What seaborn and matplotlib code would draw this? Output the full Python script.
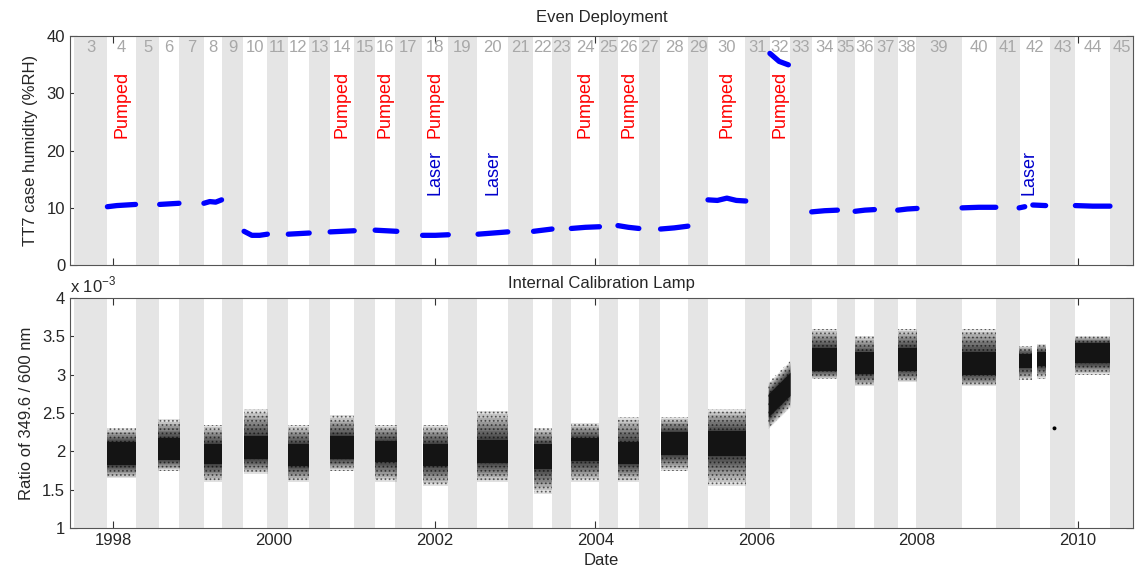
import numpy as np
import pandas as pd
import matplotlib
matplotlib.use("Agg")
import matplotlib.pyplot as plt
import seaborn as sns

# ---------------------------------------------------------------- data
# Deployment numbers and their boundaries (decimal year)
deploy_ids = list(range(3, 46))
deploy_edges = [1997.515, 1997.925, 1998.286, 1998.572, 1998.821, 1999.132,
                1999.356, 1999.617, 1999.915, 2000.177, 2000.438, 2000.699,
                2000.998, 2001.259, 2001.507, 2001.843, 2002.167, 2002.527,
                2002.913, 2003.224, 2003.460, 2003.697, 2004.045, 2004.281,
                2004.542, 2004.803, 2005.152, 2005.400, 2005.861, 2006.172,
                2006.420, 2006.694, 2007.005, 2007.229, 2007.465, 2007.764,
                2007.988, 2008.560, 2008.983, 2009.281, 2009.654, 2009.965,
                2010.400, 2010.687]

# TT7 case humidity (%RH) per even-deployment record segment
hum_dep = [4, 6, 8, 10, 12, 14, 16, 18, 20, 22, 24, 26, 28, 30, 32,
           34, 36, 38, 40, 42, 42, 44]
hum_start = [1997.93, 1998.58, 1999.13, 1999.63, 2000.18, 2000.70, 2001.26,
             2001.85, 2002.54, 2003.23, 2003.70, 2004.28, 2004.81, 2005.40,
             2006.17, 2006.69, 2007.23, 2007.76, 2008.56, 2009.27, 2009.44,
             2009.97]
hum_end = [1998.28, 1998.82, 1999.35, 1999.92, 2000.44, 2001.00, 2001.53,
           2002.17, 2002.91, 2003.46, 2004.05, 2004.54, 2005.15, 2005.87,
           2006.40, 2007.01, 2007.47, 2008.00, 2008.98, 2009.34, 2009.60,
           2010.40]
hum_vals = [[10.2, 10.4, 10.5, 10.6],
            [10.6, 10.7, 10.8],
            [10.8, 11.1, 11.0, 11.4],
            [5.9, 5.2, 5.2, 5.4],
            [5.4, 5.5, 5.6],
            [5.8, 5.9, 6.0],
            [6.1, 6.0, 5.9],
            [5.2, 5.2, 5.3],
            [5.4, 5.6, 5.8],
            [5.9, 6.1, 6.3],
            [6.4, 6.6, 6.7],
            [6.9, 6.6, 6.4],
            [6.3, 6.5, 6.8],
            [11.4, 11.3, 11.7, 11.3, 11.2],
            [37.0, 36.3, 35.6, 35.3, 35.0],
            [9.3, 9.5, 9.6],
            [9.4, 9.6, 9.7],
            [9.6, 9.8, 9.9],
            [10.0, 10.1, 10.1],
            [10.0, 10.2],
            [10.5, 10.4],
            [10.4, 10.3, 10.3]]

# Calibration lamp ratio 349.6/600 nm (x 1e-3): cluster centre at start/end,
# dense-core half width, and full spread below/above the centre
lamp_dep = [4, 6, 8, 10, 12, 14, 16, 18, 20, 22, 24, 26, 28, 30, 32,
            34, 36, 38, 40, 42, 42, 44]
lamp_start = [1997.93, 1998.56, 1999.13, 1999.63, 2000.18, 2000.70, 2001.26,
              2001.85, 2002.53, 2003.23, 2003.70, 2004.28, 2004.81, 2005.40,
              2006.15, 2006.69, 2007.23, 2007.76, 2008.56, 2009.27, 2009.49,
              2009.97]
lamp_end = [1998.29, 1998.83, 1999.36, 1999.93, 2000.44, 2001.00, 2001.53,
            2002.17, 2002.91, 2003.46, 2004.05, 2004.54, 2005.15, 2005.87,
            2006.42, 2007.01, 2007.47, 2008.00, 2008.98, 2009.43, 2009.60,
            2010.40]
lamp_mid0 = [1.97, 2.03, 1.96, 2.05, 1.95, 2.05, 2.00, 1.95, 2.00, 1.93, 2.02,
             1.98, 2.10, 2.10, 2.60, 3.20, 3.15, 3.20, 3.15, 3.18, 3.20, 3.28]
lamp_mid1 = [1.97, 2.03, 1.96, 2.05, 1.95, 2.05, 2.00, 1.95, 2.00, 1.93, 2.02,
             1.98, 2.10, 2.10, 2.88, 3.20, 3.15, 3.20, 3.15, 3.18, 3.20, 3.28]
lamp_core = [0.15, 0.14, 0.13, 0.15, 0.14, 0.15, 0.14, 0.14, 0.15, 0.16, 0.15,
             0.14, 0.15, 0.16, 0.15, 0.15, 0.14, 0.15, 0.15, 0.09, 0.09, 0.13]
lamp_down = [0.32, 0.28, 0.36, 0.35, 0.35, 0.30, 0.40, 0.40, 0.40, 0.48, 0.42,
             0.38, 0.35, 0.55, 0.30, 0.25, 0.30, 0.30, 0.30, 0.25, 0.25, 0.28]
lamp_up = [0.33, 0.39, 0.39, 0.50, 0.40, 0.42, 0.35, 0.40, 0.53, 0.37, 0.35,
           0.47, 0.35, 0.45, 0.30, 0.40, 0.35, 0.40, 0.45, 0.20, 0.20, 0.22]
# isolated lamp readings outside the main clouds
lamp_out_t = [2009.71]
lamp_out_v = [2.30]

# Annotated special deployments
pumped_deps = [4, 14, 16, 18, 24, 26, 30, 32]
laser_deps = [18, 20, 42]

year_ticks = [1998, 2000, 2002, 2004, 2006, 2008, 2010]

# ---------------------------------------------------------------- style
sns.set_theme(style="ticks")
plt.rcParams["font.family"] = ["Liberation Sans", "DejaVu Sans"]
plt.rcParams["font.size"] = 12
plt.rcParams["hatch.linewidth"] = 0.8
BAND_GREY = "#e5e5e5"
NUM_GREY = "#a8a8a8"
XLIM = (1997.465, 2010.687)

fig = plt.figure(figsize=(11.46, 5.75), dpi=100)
ax1 = fig.add_axes([0.0611, 0.539, 0.9276, 0.398])
ax2 = fig.add_axes([0.0611, 0.0817, 0.9276, 0.400])


def centre(dep):
    i = deploy_ids.index(dep)
    return 0.5 * (deploy_edges[i] + deploy_edges[i + 1])


def shade(ax):
    for i, dep in enumerate(deploy_ids):
        if dep % 2 == 1:
            ax.axvspan(deploy_edges[i], deploy_edges[i + 1], color=BAND_GREY,
                       lw=0, zorder=1)


for ax in (ax1, ax2):
    shade(ax)
    ax.set_xlim(*XLIM)
    ax.set_axisbelow(True)
    ax.tick_params(direction="in", top=True, right=True, length=5,
                   width=0.8, labelsize=12, color="#333333")
    for s in ax.spines.values():
        s.set_linewidth(0.8)
        s.set_color("#555555")
        s.set_zorder(5)
    ax.set_xticks(year_ticks)

# ---------------------------------------------------------------- top panel
rows = []
for k, (t0, t1, vals) in enumerate(zip(hum_start, hum_end, hum_vals)):
    for t, v in zip(np.linspace(t0, t1, len(vals)), vals):
        rows.append({"seg": k, "date": t, "rh": v})
hum_df = pd.DataFrame(rows)
sns.lineplot(data=hum_df, x="date", y="rh", units="seg", estimator=None,
             color="#0000ff", lw=3.8, solid_capstyle="round", sort=False,
             ax=ax1, zorder=3)

ax1.set_ylim(0, 40)
ax1.set_yticks([0, 10, 20, 30, 40])
ax1.set_xticklabels([])
ax1.set_xlabel("")
ax1.set_ylabel("TT7 case humidity (%RH)", fontsize=12, labelpad=6)
ax1.set_title("Even Deployment", fontsize=12, pad=10)

for dep in deploy_ids:
    ax1.text(centre(dep), 0.952, str(dep), transform=ax1.get_xaxis_transform(),
             ha="center", va="center", color=NUM_GREY, fontsize=12, zorder=4)
for dep in pumped_deps:
    ax1.text(centre(dep), 28.1, "Pumped", rotation=90, ha="center",
             va="center", color="#ff0000", fontsize=13, zorder=4)
laser_x = {18: centre(18), 20: centre(20), 42: 2009.39}
for dep in laser_deps:
    ax1.text(laser_x[dep], 16.2, "Laser", rotation=90, ha="center",
             va="center", color="#0000cc", fontsize=13, zorder=4)

# ---------------------------------------------------------------- bottom panel
# Each lamp cloud: nested translucent layers fading from the dense core
# out to the extreme readings, with a light speckle over the fringe.
n_layers = 10
for t0, t1, m0, m1, c, dn, up in zip(lamp_start, lamp_end, lamp_mid0,
                                     lamp_mid1, lamp_core, lamp_down, lamp_up):
    tt = [t0, t1]
    mid = np.array([m0, m1])
    for k in range(n_layers):
        f = (1.0 - k / n_layers) ** 1.3
        lo = mid - (c + f * (dn - c))
        hi = mid + (c + f * (up - c))
        ax2.fill_between(tt, lo, hi, facecolor="black", alpha=0.12,
                         lw=0, zorder=2)
    ax2.fill_between(tt, mid - dn, mid + up, facecolor="none",
                     edgecolor="black", hatch="....", lw=0, alpha=0.5,
                     zorder=2)
    ax2.fill_between(tt, mid - c, mid + c, facecolor="#141414",
                     lw=0, zorder=3)

sns.scatterplot(x=lamp_out_t, y=lamp_out_v, color="black", s=8,
                edgecolor="none", ax=ax2, zorder=3)

ax2.set_ylim(1, 4)
ax2.set_yticks([1, 1.5, 2, 2.5, 3, 3.5, 4])
ax2.set_yticklabels(["1", "1.5", "2", "2.5", "3", "3.5", "4"])
ax2.set_xticklabels([str(y) for y in year_ticks])
ax2.set_xlabel("Date", fontsize=12, labelpad=4)
ax2.set_ylabel("Ratio of 349.6 / 600 nm", fontsize=12, labelpad=6)
ax2.set_title("Internal Calibration Lamp", fontsize=12, pad=7)
ax2.text(0.0, 1.012, r"x 10$^{\mathregular{-3}}$", transform=ax2.transAxes,
         ha="left", va="bottom", fontsize=12)

fig.savefig("out.png", dpi=100)
